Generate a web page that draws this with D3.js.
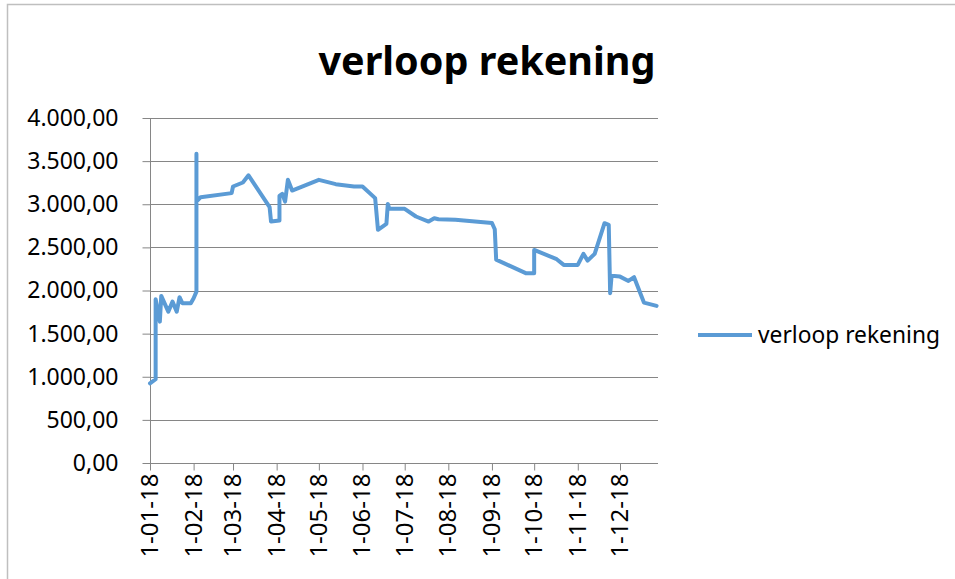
<!DOCTYPE html>
<html>
<head>
<meta charset="utf-8">
<script src="https://cdn.jsdelivr.net/npm/d3@7"></script>
<style>
  html, body { margin: 0; padding: 0; background: #fff; }
  svg { display: block; }
  text { font-family: "Noto Sans", "Open Sans", sans-serif; fill: #000; }
</style>
</head>
<body>
<script>
const seriesName = "verloop rekening";
const dates = [
  "2018-01-01","2018-01-05","2018-01-05","2018-01-08","2018-01-09","2018-01-14","2018-01-17",
  "2018-01-20","2018-01-22","2018-01-24","2018-01-30","2018-02-01","2018-02-03","2018-02-03",
  "2018-02-03","2018-02-06","2018-02-28","2018-03-01","2018-03-08","2018-03-12","2018-03-27",
  "2018-03-28","2018-04-03","2018-04-03","2018-04-05","2018-04-07","2018-04-09","2018-04-12",
  "2018-05-01","2018-05-13","2018-05-26","2018-06-01","2018-06-10","2018-06-12","2018-06-18",
  "2018-06-19","2018-06-20","2018-07-01","2018-07-09","2018-07-18","2018-07-22","2018-07-25",
  "2018-08-06","2018-09-01","2018-09-03","2018-09-04","2018-09-25","2018-10-01","2018-10-01",
  "2018-10-17","2018-10-22","2018-11-01","2018-11-05","2018-11-08","2018-11-13","2018-11-20",
  "2018-11-23","2018-11-24","2018-11-25","2018-12-01","2018-12-07","2018-12-11","2018-12-18",
  "2018-12-27"
];
const values = [
  924, 971, 1899, 1639, 1937, 1755, 1871,
  1755, 1922, 1853, 1853, 1910, 1987, 3585,
  3031, 3082, 3129, 3206, 3252, 3335, 2966,
  2800, 2811, 3097, 3121, 3031, 3283, 3159,
  3283, 3233, 3206, 3206, 3071, 2703, 2773,
  3004, 2950, 2947, 2858, 2799, 2838, 2826,
  2819, 2783, 2710, 2358, 2201, 2201, 2471,
  2363, 2297, 2297, 2425, 2347, 2425, 2780,
  2761, 1969, 2170, 2161, 2111, 2154, 1860,
  1822
];
const yTicks = [0, 500, 1000, 1500, 2000, 2500, 3000, 3500, 4000];
const xTickDates = ["2018-01-01","2018-02-01","2018-03-01","2018-04-01","2018-05-01","2018-06-01",
  "2018-07-01","2018-08-01","2018-09-01","2018-10-01","2018-11-01","2018-12-01"];

const W = 955, H = 579;
const parse = d3.timeParse("%Y-%m-%d");
const data = dates.map((d, i) => ({ date: parse(d), value: values[i] }));

const svg = d3.select("body").append("svg").attr("width", W).attr("height", H);

// chart area border
svg.append("rect").attr("x", 7.5).attr("y", 4.5).attr("width", 1000).attr("height", 700)
  .attr("fill", "#fff").attr("stroke", "#bfbfbf").attr("stroke-width", 1.5);

const pLeft = 150, pRight = 658, pTop = 118, pBottom = 463;
const x = d3.scaleTime()
  .domain([parse("2018-01-01"), parse("2018-12-28")])
  .range([pLeft, pRight]);
const y = d3.scaleLinear().domain([0, 4000]).range([pBottom, pTop]);

const locale = d3.formatLocale({decimal: ",", thousands: ".", grouping: [3], currency: ["", ""]});
const fmt = locale.format(",.2f");

// gridlines
svg.append("g").selectAll("line").data(yTicks.filter(t => t > 0)).join("line")
  .attr("x1", pLeft).attr("x2", pRight)
  .attr("y1", d => Math.round(y(d)) + 0.5).attr("y2", d => Math.round(y(d)) + 0.5)
  .attr("stroke", "#868686").attr("stroke-width", 1);

// y axis
const yAxis = d3.axisLeft(y).tickValues(yTicks).tickFormat(fmt).tickSize(8).tickPadding(24);
const gy = svg.append("g").attr("transform", `translate(${pLeft + 0.5},0)`).call(yAxis);
gy.select(".domain").attr("stroke", "#868686").attr("d", `M0,${pTop}V${pBottom}`);
gy.selectAll(".tick line").attr("stroke", "#868686");
gy.selectAll(".tick text").attr("font-size", 23).attr("font-family", "Noto Sans").attr("fill", "#000");

// x axis
const xAxis = d3.axisBottom(x).tickValues(xTickDates.map(parse))
  .tickFormat(d => `${d.getDate()}-${String(d.getMonth() + 1).padStart(2, "0")}-${String(d.getFullYear()).slice(2)}`)
  .tickSize(7).tickSizeOuter(0).tickPadding(4);
const gx = svg.append("g").attr("transform", `translate(0,${pBottom + 0.5})`).call(xAxis);
gx.select(".domain").attr("stroke", "#868686").attr("d", `M${pLeft},0H${pRight}`);
gx.selectAll(".tick line").attr("stroke", "#868686");
gx.selectAll(".tick text")
  .attr("font-size", 24).attr("font-family", "Noto Sans").attr("fill", "#000")
  .attr("text-anchor", "end").attr("dy", "0.35em")
  .attr("transform", "translate(-1,10) rotate(-90)")
  .attr("x", 0).attr("y", 0);

// line
const line = d3.line().x(d => x(d.date)).y(d => y(d.value)).curve(d3.curveLinear);
svg.append("path").datum(data).attr("d", line)
  .attr("fill", "none").attr("stroke", "#5B9BD5").attr("stroke-width", 4)
  .attr("stroke-linejoin", "round").attr("stroke-linecap", "round");

// title
svg.append("text").attr("x", 487).attr("y", 75).attr("text-anchor", "middle")
  .attr("font-size", 40).attr("font-weight", "bold")
  .attr("textLength", 337).attr("lengthAdjust", "spacingAndGlyphs")
  .text(seriesName);

// legend
svg.append("line").attr("x1", 698).attr("x2", 752).attr("y1", 335).attr("y2", 335)
  .attr("stroke", "#5B9BD5").attr("stroke-width", 4);
svg.append("text").attr("x", 758).attr("y", 335).attr("dy", "0.35em")
  .attr("font-size", 23).attr("textLength", 182).attr("lengthAdjust", "spacingAndGlyphs")
  .text(seriesName);
</script>
</body>
</html>
